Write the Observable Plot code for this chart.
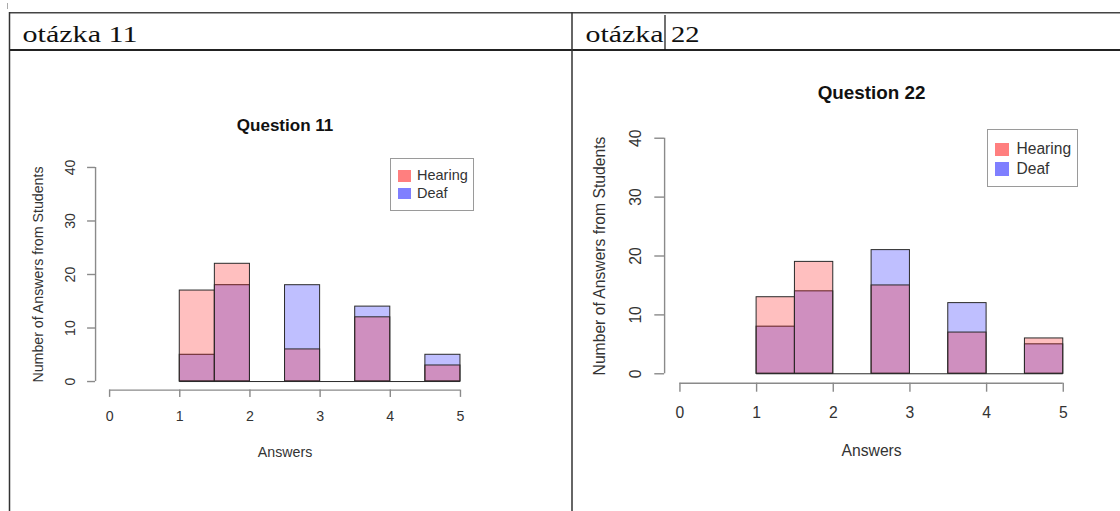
<!DOCTYPE html>
<html>
<head>
<meta charset="utf-8">
<script src="https://cdn.jsdelivr.net/npm/d3@7"></script>
<script src="https://cdn.jsdelivr.net/npm/@observablehq/plot@0.6"></script>
<style>
  html, body { margin: 0; padding: 0; background: #fff; }
  #page { position: relative; width: 1120px; height: 511px; overflow: hidden; background: #fff;
          font-family: "Liberation Sans", Arial, Helvetica, sans-serif; }
  .chart { position: absolute; }
  .chart svg { display: block; background: transparent; }
  .legend { position: absolute; box-sizing: border-box; border: 1.3px solid #9a9a9a; background: #fff; }
  .legend .sw { position: absolute; }
  .legend .lt { position: absolute; color: #333; white-space: nowrap; display: flex; align-items: center; }
  #frame { position: absolute; left: 0; top: 0; }
</style>
</head>
<body>
<div id="page">
  <svg id="frame" width="1120" height="511"></svg>
</div>
<script>
// ---------------- data ----------------
const headers = ["otázka 11", "otázka 22"];
const titles = ["Question 11", "Question 22"];
const xLabel = "Answers";
const yLabel = "Number of Answers from Students";
const breaks = [1, 1.5, 2, 2.5, 3, 3.5, 4, 4.5, 5];
const xTicks = [0, 1, 2, 3, 4, 5];
const yTicks = [0, 10, 20, 30, 40];
const seriesNames = ["Hearing", "Deaf"];
const seriesColors = ["rgb(255,0,0)", "rgb(0,0,255)"];
// counts per histogram bin (bins between consecutive breaks)
const q11Hearing = [17, 22, 0, 6, 0, 12, 0, 3];
const q11Deaf    = [5, 18, 0, 18, 0, 14, 0, 5];
const q22Hearing = [13, 19, 0, 15, 0, 7, 0, 6];
const q22Deaf    = [8, 14, 0, 21, 0, 12, 0, 5];

// ---------------- document table frame ----------------
const ns = "http://www.w3.org/2000/svg";
const frame = document.getElementById("frame");
function el(tag, attrs, text) {
  const e = document.createElementNS(ns, tag);
  for (const k in attrs) e.setAttribute(k, attrs[k]);
  if (text != null) e.textContent = text;
  frame.appendChild(e);
  return e;
}
el("line", {x1: 7.5, y1: 3, x2: 7.5, y2: 9, stroke: "#aaa", "stroke-width": 1});
el("line", {x1: 9, y1: 12.7, x2: 1120, y2: 12.7, stroke: "#444", "stroke-width": 1.4});
el("line", {x1: 9, y1: 50, x2: 1120, y2: 50, stroke: "#222", "stroke-width": 1.8});
el("line", {x1: 9.5, y1: 12, x2: 9.5, y2: 511, stroke: "#333", "stroke-width": 1.5});
el("line", {x1: 572, y1: 12, x2: 572, y2: 511, stroke: "#333", "stroke-width": 1.5});
const serif = "'Liberation Serif', 'Times New Roman', serif";
el("text", {x: 22.5, y: 41.7, "font-family": serif, "font-size": 23, fill: "#111",
            textLength: 115, lengthAdjust: "spacingAndGlyphs"}, headers[0]);
const [w22a, w22b] = headers[1].split(" ");
el("text", {x: 585.5, y: 41.7, "font-family": serif, "font-size": 23, fill: "#111",
            textLength: 78, lengthAdjust: "spacingAndGlyphs"}, w22a);
el("text", {x: 671, y: 41.7, "font-family": serif, "font-size": 23, fill: "#111",
            textLength: 28.5, lengthAdjust: "spacingAndGlyphs"}, w22b);
el("line", {x1: 665, y1: 15, x2: 665, y2: 50, stroke: "#111", "stroke-width": 1.2});

// ---------------- charts ----------------
function rExpand([a, b]) { const p = (b - a) * 0.04; return [a - p, b + p]; }
function bins(counts) { return counts.map((c, i) => ({x1: breaks[i], x2: breaks[i + 1], count: c})); }

const axisCol = "#8a8a8a";
const edge = "#2a2a2a";

function histPlot(c) {
  const xDom = rExpand([xTicks[0], xTicks[xTicks.length - 1]]);
  const yDom = rExpand([yTicks[0], yTicks[yTicks.length - 1]]);
  const fs = c.fontSize;
  return Plot.plot({
    width: c.width, height: c.height,
    marginLeft: c.ml, marginRight: c.mr, marginTop: c.mt, marginBottom: c.mb,
    x: {domain: xDom}, y: {domain: yDom},
    style: {background: "transparent", fontFamily: "'Liberation Sans', Arial, Helvetica, sans-serif", overflow: "visible"},
    marks: [
      Plot.rect(bins(c.deaf), {x1: "x1", x2: "x2", y1: 0, y2: "count",
        fill: seriesColors[1], fillOpacity: 0.25, stroke: edge, strokeWidth: 1}),
      Plot.rect(bins(c.hearing), {x1: "x1", x2: "x2", y1: 0, y2: "count",
        fill: seriesColors[0], fillOpacity: 0.25, stroke: edge, strokeWidth: 1}),
      Plot.ruleY([0], {x1: breaks[0], x2: breaks[breaks.length - 1], stroke: edge, strokeWidth: 1}),
      Plot.ruleX([xDom[0]], {y1: yTicks[0], y2: yTicks[yTicks.length - 1], stroke: axisCol, strokeWidth: 1.4}),
      Plot.ruleY([yDom[0]], {x1: xTicks[0], x2: xTicks[xTicks.length - 1], stroke: axisCol, strokeWidth: 1.4}),
      Plot.axisX(xTicks, {anchor: "bottom", tickSize: c.xTickSize, tickPadding: c.xTickPad, fontSize: fs,
        stroke: axisCol, strokeWidth: 1.4, fill: "#333", label: null, tickFormat: d => String(d)}),
      Plot.axisY(yTicks, {anchor: "left", tickSize: c.yTickSize, tickPadding: c.yTickPad, tickRotate: -90, fontSize: fs,
        stroke: axisCol, strokeWidth: 1.4, fill: "#333", label: null, tickFormat: d => String(d)}),
      Plot.text([c.title], {text: d => d, frameAnchor: "top", dy: c.titleDy, lineAnchor: "bottom",
        textAnchor: "middle", fontSize: fs * 1.2, fontWeight: "bold", fill: "#111"}),
      Plot.text([xLabel], {text: d => d, frameAnchor: "bottom", dy: c.xLabDy, lineAnchor: "bottom",
        textAnchor: "middle", fontSize: fs, fill: "#333"}),
      Plot.text([yLabel], {text: d => d, frameAnchor: "left", dx: c.yLabDx, rotate: -90, lineAnchor: "bottom",
        textAnchor: "middle", fontSize: fs, fill: "#333"})
    ]
  });
}

function legend(page, c) {
  const box = document.createElement("div");
  box.className = "legend";
  Object.assign(box.style, {left: c.left + "px", top: c.top + "px", width: c.width + "px", height: c.height + "px"});
  seriesNames.forEach((name, i) => {
    const cy = c.rows[i];
    const sw = document.createElement("div");
    sw.className = "sw";
    Object.assign(sw.style, {left: c.swX + "px", top: (cy - c.swH / 2) + "px", width: c.swW + "px",
      height: c.swH + "px", background: seriesColors[i], opacity: 0.5});
    const t = document.createElement("div");
    t.className = "lt";
    const lh = c.fontSize * 1.2;
    Object.assign(t.style, {left: c.textX + "px", top: (cy - lh / 2) + "px", height: lh + "px",
      lineHeight: lh + "px", fontSize: c.fontSize + "px"});
    t.textContent = name;
    box.appendChild(sw); box.appendChild(t);
  });
  page.appendChild(box);
}

const page = document.getElementById("page");
const charts = [
  {left: 10, top: 52, width: 560, height: 459, ml: 85.06, mr: 96, mt: 106.4, mb: 121.4,
   fontSize: 14.2, xTickSize: 7.3, xTickPad: 14, yTickSize: 8, yTickPad: 12.5,
   titleDy: -27.7, xLabDy: 67, yLabDx: -53,
   title: titles[0], hearing: q11Hearing, deaf: q11Deaf,
   leg: {left: 390, top: 157.5, width: 84.3, height: 53.2, swX: 6.5, swW: 13.4, swH: 11.6,
         textX: 26, fontSize: 14.5, rows: [17.4, 35]}},
  {left: 574, top: 52, width: 544, height: 459, ml: 90.1, mr: 39.9, mt: 76.3, mb: 128.3,
   fontSize: 15.7, xTickSize: 9, xTickPad: 15, yTickSize: 9.8, yTickPad: 14,
   titleDy: -30, xLabDy: 73, yLabDx: -60,
   title: titles[1], hearing: q22Hearing, deaf: q22Deaf,
   leg: {left: 987, top: 129, width: 91, height: 57.5, swX: 6.5, swW: 14, swH: 13.2,
         textX: 28.5, fontSize: 15.6, rows: [19.3, 39]}}
];
for (const c of charts) {
  const wrap = document.createElement("div");
  wrap.className = "chart";
  Object.assign(wrap.style, {left: c.left + "px", top: c.top + "px", width: c.width + "px", height: c.height + "px"});
  wrap.appendChild(histPlot(c));
  page.appendChild(wrap);
  legend(page, c.leg);
}
</script>
</body>
</html>
